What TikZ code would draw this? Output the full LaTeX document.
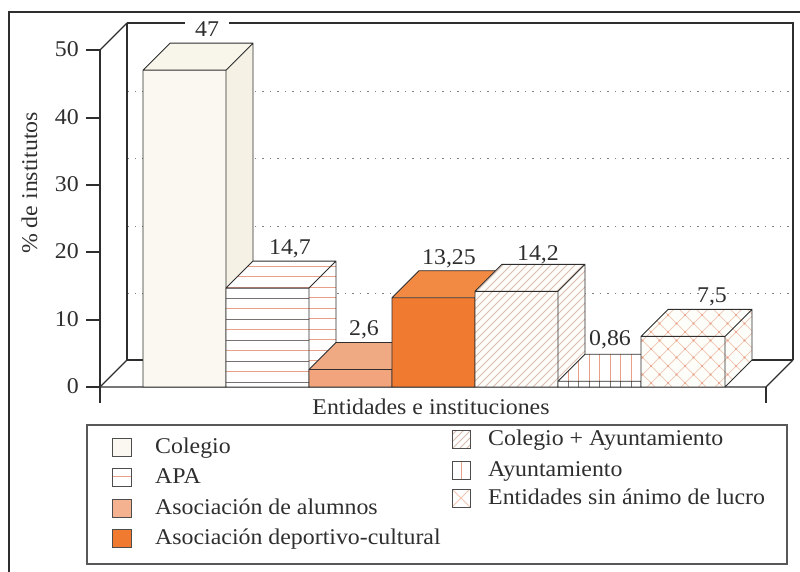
\documentclass[tikz,border=0pt]{standalone}
\usepackage{fontspec}
\setmainfont[FakeStretch=1.06]{Liberation Serif}
\definecolor{ink}{HTML}{2E2E2E}
\definecolor{cream}{HTML}{FAF8F0}
\definecolor{colside}{HTML}{F5F1E5}
\definecolor{coltop}{HTML}{F8F5EA}
\definecolor{salmonl}{HTML}{E8A088}
\definecolor{apagray}{HTML}{7A7270}
\definecolor{alumnos}{HTML}{F2A47C}
\definecolor{alumtop}{HTML}{EFA983}
\definecolor{deport}{HTML}{F07A30}
\definecolor{deporttop}{HTML}{F28A44}
\definecolor{hatchc}{HTML}{D8BDB0}
\definecolor{crossc}{HTML}{F0C6B2}
\definecolor{gridc}{HTML}{808080}
\tikzset{
  every node/.style={text=ink, font=\fontsize{22.5}{26}\selectfont, inner sep=0pt, text height=15pt, text depth=5pt},
  edge/.style={draw=ink, line width=1.1pt},
  gridl/.style={draw=gridc, line width=0.9pt, dash pattern=on 1.5pt off 6pt},
  barline/.style={draw=ink, line width=0.9pt, line join=round},
  lsq/.style={draw=ink!85, line width=0.9pt},
}
\newcommand\mkbar[3]{%
  \coordinate (fl) at (#1,387);
  \coordinate (fr) at (#2,387);
  \coordinate (tl) at (#1,#3);
  \coordinate (tr) at (#2,#3);
  \coordinate (sb) at (#2+27,360);
  \coordinate (st) at (#2+27,#3-27);
  \coordinate (bt) at (#1+27,#3-27);
}
\newcommand\barfaces{\draw[barline] (fl) -- (fr) -- (tr) -- (tl) -- cycle (fr) -- (sb) -- (st) -- (tr) (tl) -- (bt) -- (st);}
\begin{document}
\begin{tikzpicture}[x=1pt,y=-1pt]
\useasboundingbox (0,0) rectangle (800,572);
\begin{scope}
  \clip (0,0) rectangle (800,572);
  \draw[ink, line width=1.6pt] (9,12) rectangle (830,600);
\end{scope}

% back wall and grid
\foreach \yy in {91,158,226,293} \draw[gridl] (127,\yy) -- (793,\yy);
\draw[edge] (127,23) -- (185,23) (229,23) -- (793,23) -- (793,360);
\draw[edge] (127,23) -- (127,360) -- (793,360);
% left wall / axis
\draw[edge] (100,50) -- (127,23);
\draw[edge] (100,50) -- (100,403);
\draw[edge] (100,387) -- (127,360);
\draw[edge] (100,387) -- (766,387) -- (793,360);
\draw[edge] (766,387) -- (766,403);
\foreach \v/\yy in {0/387,10/320,20/252,30/185,40/118,50/50} {
  \draw[edge] (86,\yy) -- (100,\yy);
  \node[anchor=east] (tick\v) at (79,\yy+1.5) {\v};
}
\node[rotate=90] (ylab) at (32,183) {\% de institutos};
\node (xlab) at (431,409) {Entidades e instituciones};

% Colegio
\mkbar{143}{226}{70.2}
\fill[colside] (fr) -- (sb) -- (st) -- (tr) -- cycle;
\fill[coltop] (tl) -- (tr) -- (st) -- (bt) -- cycle;
\fill[cream] (fl) rectangle (tr);
\barfaces

% APA
\mkbar{226}{309}{288.1}
\fill[white] (fl) -- (fr) -- (sb) -- (st) -- (bt) -- (tl) -- cycle;
\begin{scope}
  \clip (fl) -- (fr) -- (tr) -- (tl) -- cycle;
  \foreach \yy in {298,319,...,383} \draw[apagray, line width=0.8pt] (220,\yy) -- (320,\yy);
  \foreach \yy in {308.5,329.5,...,373} \draw[salmonl, line width=0.9pt] (220,\yy) -- (320,\yy);
\end{scope}
\begin{scope}
  \clip (fr) -- (sb) -- (st) -- (bt) -- (tl) -- (tr) -- cycle;
  \foreach \yy in {266,276.5,...,387} \draw[salmonl, line width=0.9pt] (220,\yy) -- (345,\yy);
\end{scope}
\barfaces

% Asociacion de alumnos
\mkbar{309}{392}{369.5}
\fill[alumnos] (fr) -- (sb) -- (st) -- (tr) -- cycle;
\fill[alumtop] (tl) -- (tr) -- (st) -- (bt) -- cycle;
\fill[alumnos] (fl) rectangle (tr);
\barfaces

% Asociacion deportivo-cultural
\mkbar{392}{475}{297.7}
\fill[deport] (fr) -- (sb) -- (st) -- (tr) -- cycle;
\fill[deporttop] (tl) -- (tr) -- (st) -- (bt) -- cycle;
\fill[deport] (fl) rectangle (tr);
\barfaces

% Colegio + Ayuntamiento
\mkbar{475}{558}{291.3}
\fill[white!60!cream] (fl) -- (fr) -- (sb) -- (st) -- (bt) -- (tl) -- cycle;
\begin{scope}
  \clip (fl) -- (fr) -- (sb) -- (st) -- (bt) -- (tl) -- cycle;
  \foreach \x in {330,338,...,600} \draw[hatchc, line width=0.8pt] (\x,390) -- ++(140,-140);
\end{scope}
\barfaces

% Ayuntamiento
\mkbar{558}{641}{381.2}
\fill[white] (fl) -- (fr) -- (sb) -- (st) -- (bt) -- (tl) -- cycle;
\begin{scope}
  \clip (fl) -- (fr) -- (sb) -- (st) -- (bt) -- (tl) -- cycle;
  \foreach \x in {568,578.5,...,672} \draw[salmonl, line width=0.9pt] (\x,340) -- (\x,390);
\end{scope}
\begin{scope}
  \clip (fl) -- (fr) -- (tr) -- (tl) -- cycle;
  \foreach \x in {568,578.5,...,640} \draw[apagray, line width=0.8pt] (\x,375) -- (\x,390);
\end{scope}
\barfaces

% Entidades sin animo de lucro
\mkbar{641}{725}{336.4}
\fill[white!70!cream] (fl) -- (fr) -- (sb) -- (st) -- (bt) -- (tl) -- cycle;
\begin{scope}
  \clip (fl) -- (fr) -- (sb) -- (st) -- (bt) -- (tl) -- cycle;
  \foreach \k in {-8,...,18} {
    \draw[crossc, line width=0.7pt] (600+17*\k,400) -- ++(130,-130);
    \draw[crossc, line width=0.7pt] (600+17*\k,400) -- ++(-130,-130);
  }
  \foreach \m in {-1,...,11} \foreach \n in {0,...,6} {
    \fill[salmonl] (600+17*\m,400-17*\n) circle (1.2);
    \fill[salmonl] (608.5+17*\m,391.5-17*\n) circle (1.2);
  }
\end{scope}
\barfaces

% value labels
\node (v1) at (207,32) {47};
\node (v2) at (290,249) {14,7};
\node (v3) at (364,330) {2,6};
\node (v4) at (449,259) {13,25};
\node (v5) at (538,255) {14,2};
\node (v6) at (610,340) {0,86};
\node (v7) at (712,297) {7,5};

% legend
\draw[draw=ink!80, line width=1.2pt] (87,425) rectangle (787,564);
% left column
\draw[lsq, fill=cream] (112,438) rectangle (131,456);
\node[anchor=west] (l1) at (155,448) {Colegio};
\fill[white] (112,468) rectangle (131,486);
\draw[salmonl, line width=1pt] (112,476) -- (131,476);
\draw[lsq] (112,468) rectangle (131,486);
\node[anchor=west] (l2) at (155,478) {APA};
\draw[lsq, fill=alumnos!85!white] (112,499) rectangle (131,517);
\node[anchor=west] (l3) at (155,509) {Asociación de alumnos};
\draw[lsq, fill=deport] (112,529) rectangle (131,547);
\node[anchor=west] (l4) at (155,539) {Asociación deportivo-cultural};
% right column
\begin{scope}
  \clip (452,430) rectangle (470,448);
  \fill[white] (452,430) rectangle (470,448);
  \foreach \x in {430,437,...,475} \draw[hatchc, line width=0.8pt] (\x,450) -- ++(25,-25);
\end{scope}
\draw[lsq] (452,430) rectangle (470,448);
\node[anchor=west] (r1) at (488,440) {Colegio + Ayuntamiento};
\fill[white] (452,461) rectangle (470,479);
\draw[salmonl, line width=1pt] (461,461) -- (461,479);
\draw[lsq] (452,461) rectangle (470,479);
\node[anchor=west] (r2) at (488,471) {Ayuntamiento};
\begin{scope}
  \clip (452,489) rectangle (470,507);
  \fill[white] (452,489) rectangle (470,507);
  \draw[crossc, line width=0.8pt] (452,507) -- (470,489) (452,489) -- (470,507);
\end{scope}
\draw[lsq] (452,489) rectangle (470,507);
\node[anchor=west] (r3) at (488,499) {Entidades sin ánimo de lucro};
\end{tikzpicture}
\end{document}
